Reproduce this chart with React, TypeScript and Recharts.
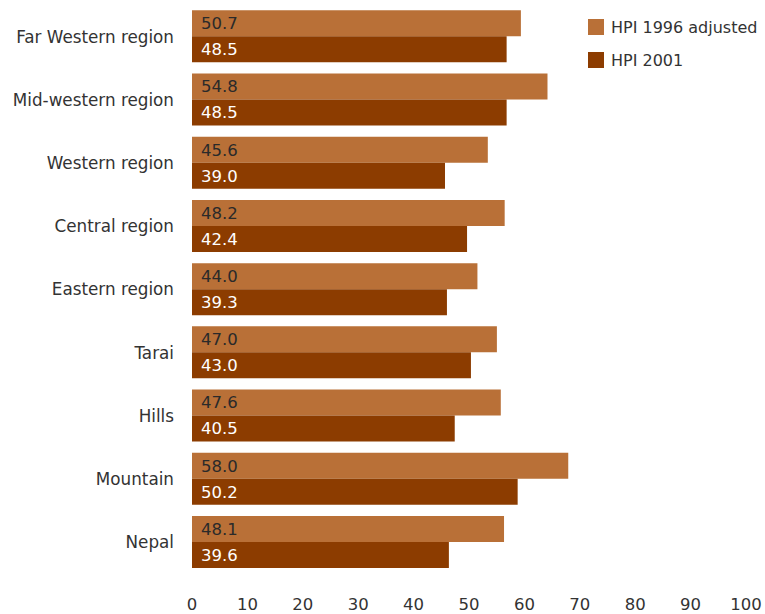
import React from "react";
import { BarChart, Bar, XAxis, YAxis, Legend, LabelList } from "recharts";

const categories = [
  "Far Western region",
  "Mid-western region",
  "Western region",
  "Central region",
  "Eastern region",
  "Tarai",
  "Hills",
  "Mountain",
  "Nepal",
];
const hpi1996 = [50.7, 54.8, 45.6, 48.2, 44.0, 47.0, 47.6, 58.0, 48.1];
const hpi2001 = [48.5, 48.5, 39.0, 42.4, 39.3, 43.0, 40.5, 50.2, 39.6];
const axisTicks = [0, 10, 20, 30, 40, 50, 60, 70, 80, 90, 100];
const seriesNames = ["HPI 1996 adjusted", "HPI 2001"];
const colors = ["#B97037", "#8C3C00"];

const data = categories.map((c, i) => ({
  name: c,
  a: hpi1996[i],
  b: hpi2001[i],
}));

const FONT = "'DejaVu Sans', sans-serif";

const renderLegend = () => (
  <div style={{ fontFamily: FONT, fontSize: 16, color: "#333" }}>
    {seriesNames.map((n, i) => (
      <div
        key={n}
        style={{ display: "flex", alignItems: "center", height: 16, marginBottom: i === 0 ? 17 : 0 }}
      >
        <span
          style={{
            display: "inline-block",
            width: 16,
            height: 16,
            background: colors[i],
            marginRight: 7,
          }}
        />
        <span style={{ whiteSpace: "nowrap" }}>{n}</span>
      </div>
    ))}
  </div>
);

export default function App() {
  return (
    <div style={{ position: "absolute", left: 0, top: 0, fontFamily: FONT }}>
      <BarChart
        width={765}
        height={614}
        data={data}
        layout="vertical"
        margin={{ top: 5, right: 19, bottom: 0, left: 0 }}
        barCategoryGap="8.3%"
        barGap={0}
      >
        <XAxis
          xAxisId="val"
          type="number"
          domain={[0, 85.4]}
          hide
          allowDataOverflow
        />
        <XAxis
          xAxisId="scale"
          type="number"
          domain={[0, 100]}
          ticks={axisTicks}
          allowDataOverflow
          axisLine={false}
          tickLine={false}
          tickSize={0}
          tickMargin={24}
          height={40}
          interval={0}
          tick={{ fontSize: 16.5, fill: "#333", fontFamily: FONT }}
        />
        <YAxis
          type="category"
          dataKey="name"
          width={192}
          axisLine={false}
          tickLine={false}
          tickSize={0}
          tickMargin={18}
          interval={0}
          tick={{ fontSize: 16.8, fill: "#333", fontFamily: FONT }}
        />
        <Legend
          layout="horizontal"
          verticalAlign="middle"
          align="center"
          content={renderLegend}
          wrapperStyle={{ left: 588, top: 19, width: 177, height: 50 }}
        />
        <Bar xAxisId="val" dataKey="a" name={seriesNames[0]} fill={colors[0]} isAnimationActive={false}>
          <LabelList
            dataKey="a"
            position="insideLeft"
            offset={9}
            formatter={(v: number) => v.toFixed(1)}
            style={{ fontSize: 16.5, fill: "#2a2a2a", fontFamily: FONT }}
          />
        </Bar>
        <Bar xAxisId="val" dataKey="b" name={seriesNames[1]} fill={colors[1]} isAnimationActive={false}>
          <LabelList
            dataKey="b"
            position="insideLeft"
            offset={9}
            formatter={(v: number) => v.toFixed(1)}
            style={{ fontSize: 16.5, fill: "#ffffff", fontFamily: FONT }}
          />
        </Bar>
      </BarChart>
    </div>
  );
}
